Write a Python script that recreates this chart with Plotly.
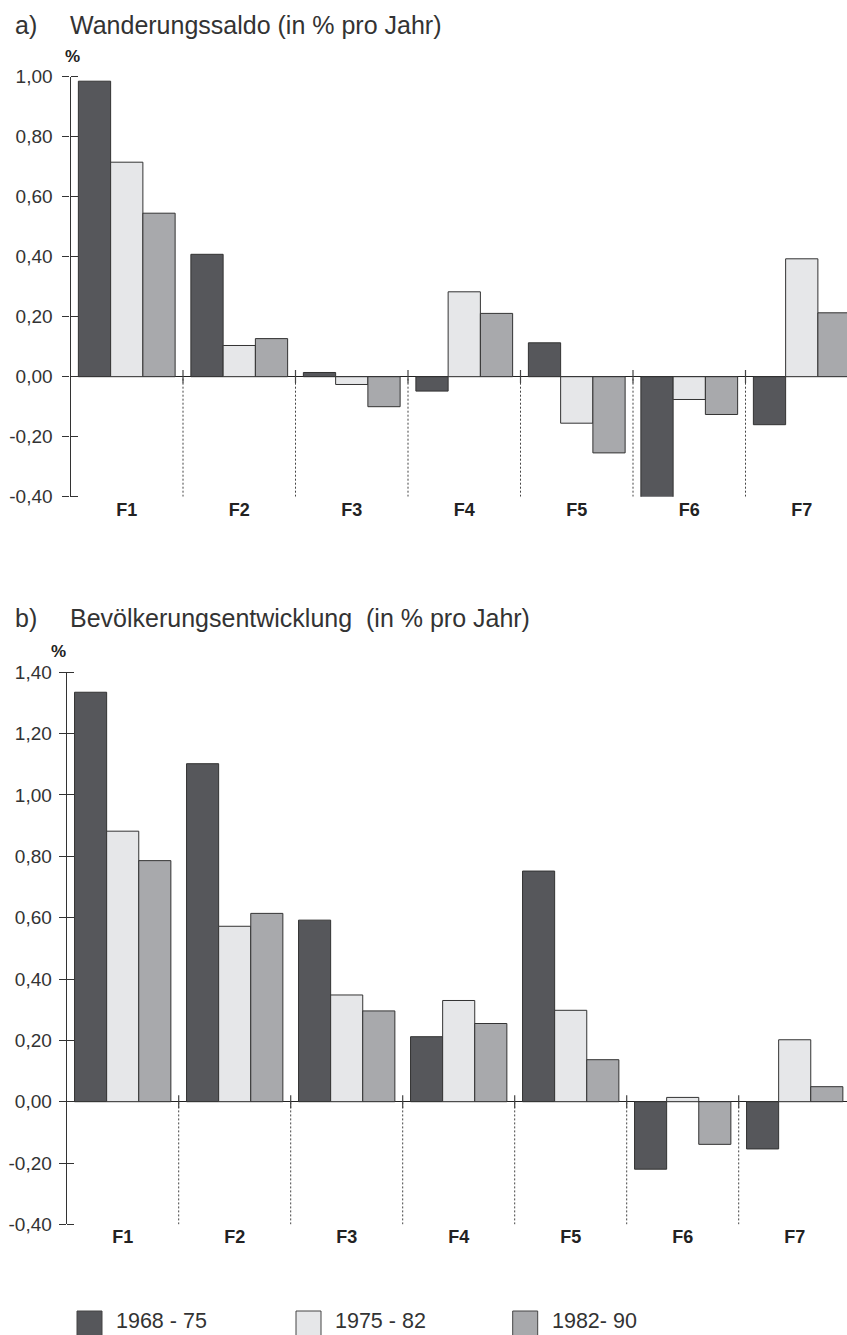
import plotly.graph_objects as go

categories = ["F1", "F2", "F3", "F4", "F5", "F6", "F7"]
series_names = ["1968 - 75", "1975 - 82", "1982- 90"]

# a) Wanderungssaldo (in % pro Jahr)
wander_1968_75 = [0.985, 0.408, 0.014, -0.048, 0.113, -0.403, -0.160]
wander_1975_82 = [0.715, 0.104, -0.026, 0.283, -0.155, -0.076, 0.393]
wander_1982_90 = [0.545, 0.127, -0.100, 0.211, -0.254, -0.126, 0.213]

# b) Bevölkerungsentwicklung (in % pro Jahr)
bev_1968_75 = [1.335, 1.102, 0.592, 0.212, 0.752, -0.220, -0.154]
bev_1975_82 = [0.882, 0.572, 0.348, 0.330, 0.298, 0.014, 0.202]
bev_1982_90 = [0.786, 0.614, 0.296, 0.255, 0.137, -0.139, 0.049]

ticks_a = [-0.4, -0.2, 0.0, 0.2, 0.4, 0.6, 0.8, 1.0]
ticktext_a = ["-0,40", "-0,20", "0,00", "0,20", "0,40", "0,60", "0,80", "1,00"]
ticks_b = [-0.4, -0.2, 0.0, 0.2, 0.4, 0.6, 0.8, 1.0, 1.2, 1.4]
ticktext_b = ["-0,40", "-0,20", "0,00", "0,20", "0,40", "0,60", "0,80", "1,00", "1,20", "1,40"]

title_a = ("a)", "Wanderungssaldo (in % pro Jahr)")
title_b = ("b)", "Bevölkerungsentwicklung  (in % pro Jahr)")

W, H = 847, 1335
FONT = "Liberation Sans, Arial, sans-serif"
TXT = "#333333"
colors = ["#56575b", "#e6e7e9", "#a8a9ac"]
EDGE = "#333333"

def px_x(p):
    return p / W

def px_y(p):
    return 1 - p / H

fig = go.Figure()

for vals, name, col in zip([wander_1968_75, wander_1975_82, wander_1982_90], series_names, colors):
    fig.add_trace(go.Bar(x=categories, y=vals, name=name, marker=dict(color=col, line=dict(color=EDGE, width=1)),
                         xaxis="x", yaxis="y", showlegend=False))
for vals, name, col in zip([bev_1968_75, bev_1975_82, bev_1982_90], series_names, colors):
    fig.add_trace(go.Bar(x=categories, y=vals, name=name, marker=dict(color=col, line=dict(color=EDGE, width=1)),
                         xaxis="x2", yaxis="y2", showlegend=False))

# pixel geometry of the two panels
a_left, a_cat = 70.5, 112.5
b_left, b_cat = 66.7, 112.0

xcommon = dict(type="category", showline=False, showgrid=False, zeroline=False, ticks="", automargin=False,
               tickfont=dict(family=FONT, size=18, color="#222222", weight="bold"), fixedrange=True)
ycommon = dict(showline=True, linecolor=EDGE, linewidth=1.2, showgrid=False, automargin=False,
               zeroline=True, zerolinecolor="#222222", zerolinewidth=1.2,
               ticks="outside", ticklen=7, tickcolor=EDGE, tickwidth=1.2,
               tickfont=dict(family=FONT, size=19, color=TXT), tickmode="array",
               minor=dict(ticks="inside", ticklen=7, tickcolor=EDGE, tickwidth=1.2,
                          tickmode="linear", tick0=0, dtick=0.2, showgrid=False))

fig.update_layout(
    width=W, height=H, autosize=False, margin=dict(l=0, r=0, t=0, b=0, pad=0, autoexpand=False),
    paper_bgcolor="white", plot_bgcolor="white",
    barmode="group", bargap=0.14, bargroupgap=0,
    showlegend=False,
    font=dict(family=FONT, color=TXT),
    xaxis=dict(xcommon, domain=[px_x(a_left), 1], range=[-0.5, -0.5 + (W - a_left) / a_cat], anchor="y"),
    yaxis=dict(ycommon, domain=[px_y(496.7), px_y(76.7)], range=[-0.4, 1.0], anchor="x",
               tickvals=ticks_a, ticktext=ticktext_a, ticklabelstandoff=6),
    xaxis2=dict(xcommon, domain=[px_x(b_left), 1], range=[-0.5, -0.5 + (W - b_left) / b_cat], anchor="y2"),
    yaxis2=dict(ycommon, domain=[px_y(1224.4), px_y(672.3)], range=[-0.4, 1.4], anchor="x2",
                tickvals=ticks_b, ticktext=ticktext_b, ticklabelstandoff=3),
)

# category separators (dotted) with short solid tick crossing the zero line
shapes = []
for xr, yr, ymin, eps in [("x", "y", -0.4, 0.022), ("x2", "y2", -0.4, 0.021)]:
    for i in range(len(categories) - 1):
        xv = i + 0.5
        shapes.append(dict(type="line", xref=xr, yref=yr, x0=xv, x1=xv, y0=ymin, y1=0,
                           line=dict(color="#444444", width=1, dash="2px,2px")))
        shapes.append(dict(type="line", xref=xr, yref=yr, x0=xv, x1=xv, y0=-eps, y1=eps,
                           line=dict(color="#444444", width=1.2)))

# legend (manual, large swatches)
leg_x = [77, 296, 512.7]
leg_w = 25
for name, col, lx in zip(series_names, colors, leg_x):
    shapes.append(dict(type="rect", xref="paper", yref="paper",
                       x0=px_x(lx), x1=px_x(lx + leg_w), y0=px_y(1345), y1=px_y(1311),
                       fillcolor=col, line=dict(color="#444444", width=1)))
fig.update_layout(shapes=shapes)

ann = []
for name, lx in zip(series_names, leg_x):
    ann.append(dict(x=px_x(lx + leg_w + 12), y=px_y(1321), xref="paper", yref="paper",
                    text=name, showarrow=False, xanchor="left", yanchor="middle",
                    font=dict(family=FONT, size=21.5, color=TXT)))

for (lab, txt), ty in [(title_a, 25), (title_b, 618)]:
    ann.append(dict(x=px_x(13), y=px_y(ty), xref="paper", yref="paper", text=lab, showarrow=False,
                    xanchor="left", yanchor="middle", font=dict(family=FONT, size=25, color=TXT)))
    ann.append(dict(x=px_x(68), y=px_y(ty), xref="paper", yref="paper", text=txt, showarrow=False,
                    xanchor="left", yanchor="middle", font=dict(family=FONT, size=25, color=TXT)))

for cx, cy in [(72.5, 56), (58.5, 651)]:
    ann.append(dict(x=px_x(cx), y=px_y(cy), xref="paper", yref="paper", text="%", showarrow=False,
                    xanchor="center", yanchor="middle",
                    font=dict(family=FONT, size=17, color="#222222", weight="bold")))

fig.update_layout(annotations=ann)

page_fix = (
    "var h=document.documentElement, b=document.body, gd=document.getElementById('{plot_id}');"
    "h.style.margin='0';h.style.padding='0';h.style.overflow='hidden';"
    "h.style.width='847px';h.style.height='1335px';"
    "b.style.margin='0';b.style.padding='0';b.style.overflow='hidden';"
    "b.style.width='847px';b.style.height='1335px';"
    "gd.style.position='absolute';gd.style.left='0px';gd.style.top='0px';"
)
fig.write_html("out.html", post_script=page_fix, config={"displayModeBar": False})
